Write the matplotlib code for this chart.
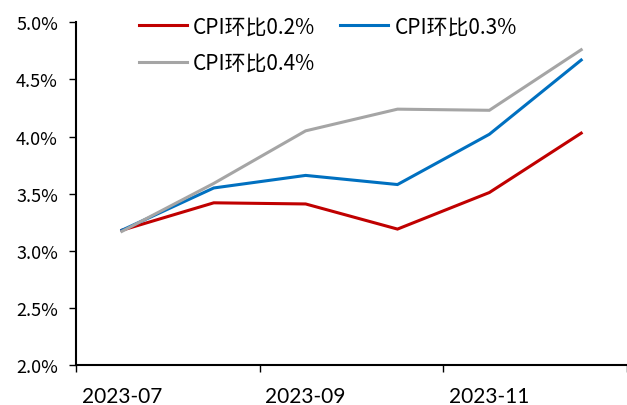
import numpy as np
import matplotlib
matplotlib.use('Agg')
import matplotlib.pyplot as plt

months = ['2023-07', '2023-08', '2023-09', '2023-10', '2023-11', '2023-12']
cpi_02 = [3.18, 3.42, 3.41, 3.19, 3.51, 4.03]
cpi_03 = [3.18, 3.55, 3.66, 3.58, 4.02, 4.67]
cpi_04 = [3.17, 3.59, 4.05, 4.24, 4.23, 4.76]
labels = ['CPI环比0.2%', 'CPI环比0.3%', 'CPI环比0.4%']
colors = ['#C00000', '#0070C0', '#A5A5A5']

cjk = ['Noto Sans CJK SC', 'DejaVu Sans']


def main():
    fig = plt.figure(figsize=(6.27, 4.06), dpi=100)
    ax = fig.add_axes([0.1212, 0.0985, 0.879, 0.844])

    x = np.arange(len(months))
    lines = []
    for ys, c, lab in zip([cpi_02, cpi_03, cpi_04], colors, labels):
        ln, = ax.plot(x, ys, color=c, lw=2.2, label=lab, solid_joinstyle='miter')
        lines.append(ln)

    ax.set_xlim(-0.5, len(months) - 0.5)
    ax.set_ylim(2.0, 5.0)
    yt = np.arange(2.0, 5.01, 0.5)
    ax.set_yticks(yt)
    ax.set_yticklabels(['{:.1f}%'.format(v) for v in yt], family=cjk, fontsize=13)

    # tick marks at category boundaries, labels centred on categories
    ax.set_xticks([-0.5, 1.5, 3.5, 5.5])
    ax.set_xticklabels([])
    ax.set_xticks(x[::2], minor=True)
    ax.set_xticklabels(months[::2], minor=True, family='Lato', fontsize=15)
    ax.tick_params(axis='x', which='minor', length=0, pad=15)
    ax.tick_params(axis='x', which='major', length=5, width=1, direction='out')
    ax.tick_params(axis='y', length=5, width=1, direction='out', pad=8)

    for s in ['top', 'right']:
        ax.spines[s].set_visible(False)
    for s in ['left', 'bottom']:
        ax.spines[s].set_linewidth(1.5)

    # legend rows: 0.2% / 0.3% on first row, 0.4% below
    handles = [lines[0], lines[2], lines[1]]
    ax.legend(handles, [h.get_label() for h in handles], ncol=2,
              loc='upper left', bbox_to_anchor=(0.08, 1.075), frameon=False,
              prop={'family': cjk, 'size': 15}, handlelength=2.3,
              handletextpad=0.3, columnspacing=1.2, labelspacing=0.7)

    fig.savefig('out.png', dpi=100)


if __name__ == "__main__":
    main()
